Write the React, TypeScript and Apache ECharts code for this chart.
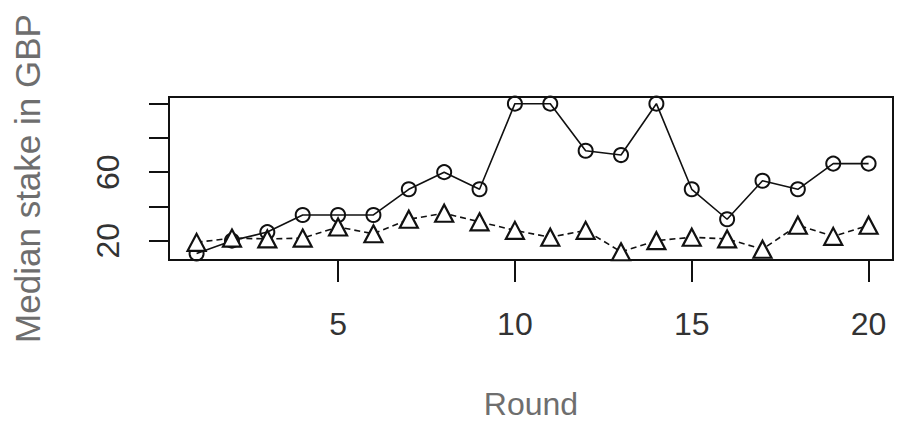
import React, { useEffect, useRef } from "react";
import * as echarts from "echarts";

const rounds = [1, 2, 3, 4, 5, 6, 7, 8, 9, 10, 11, 12, 13, 14, 15, 16, 17, 18, 19, 20];
const circleSeries = [12.5, 20, 25, 35, 35, 35, 50, 60, 50, 100, 100, 72.5, 70, 100, 50, 32.5, 55, 50, 65, 65];
const triangleSeries = [19, 21.5, 21, 21.5, 28, 24, 32.5, 36, 31, 26, 22, 26, 13.5, 20, 22, 21, 15, 29, 22.5, 29];
const xTicks = [5, 10, 15, 20];
const yTicks = [20, 40, 60, 80, 100];
const yLabels = [20, 60];

export default function App() {
  const ref = useRef<HTMLDivElement>(null);
  useEffect(() => {
    const chart = echarts.init(ref.current!, null, { renderer: "svg" });
    const font = "Liberation Sans, Arial, sans-serif";
    chart.setOption({
      animation: false,
      backgroundColor: "#ffffff",
      grid: {
        left: 169,
        top: 97,
        right: 4,
        bottom: 179,
        show: true,
        borderColor: "#111",
        borderWidth: 2,
        backgroundColor: "transparent",
      },
      xAxis: {
        type: "value",
        min: 0.22,
        max: 20.69,
        name: "Round",
        nameLocation: "middle",
        nameGap: 128,
        nameTextStyle: { fontFamily: font, fontSize: 32, color: "#6e6e6e" },
        axisLine: { show: false },
        splitLine: { show: false },
        axisTick: {
          show: true,
          inside: false,
          length: 22,
          customValues: xTicks,
          lineStyle: { color: "#111", width: 2 },
        },
        axisLabel: {
          show: true,
          customValues: xTicks,
          margin: 48,
          fontFamily: font,
          fontSize: 32,
          color: "#333",
        },
      },
      yAxis: {
        type: "value",
        min: 8.7,
        max: 103.9,
        name: "Median stake in GBP",
        nameLocation: "middle",
        nameGap: 124,
        nameTextStyle: { fontFamily: font, fontSize: 35, color: "#6e6e6e" },
        axisLine: { show: false },
        splitLine: { show: false },
        axisTick: {
          show: true,
          inside: false,
          length: 20,
          customValues: yTicks,
          lineStyle: { color: "#111", width: 2 },
        },
        axisLabel: {
          show: true,
          customValues: yLabels,
          rotate: 90,
          margin: 45,
          fontFamily: font,
          fontSize: 32,
          color: "#333",
        },
      },
      series: [
        {
          type: "line",
          data: rounds.map((r, i) => [r, circleSeries[i]]),
          symbol: "circle",
          symbolSize: 14,
          lineStyle: { color: "#111", width: 1.6, type: "solid" },
          itemStyle: { color: "rgba(0,0,0,0)", borderColor: "#111", borderWidth: 2 },
          z: 3,
        },
        {
          type: "line",
          data: rounds.map((r, i) => [r, triangleSeries[i]]),
          symbol: "triangle",
          symbolSize: [18, 17],
          lineStyle: { color: "#111", width: 1.6, type: [6, 4] },
          itemStyle: { color: "#ffffff", borderColor: "#111", borderWidth: 2.2 },
          z: 4,
        },
      ],
    });
    return () => chart.dispose();
  }, []);
  return <div ref={ref} style={{ width: 897, height: 439, position: "absolute", left: 0, top: 0 }} />;
}
